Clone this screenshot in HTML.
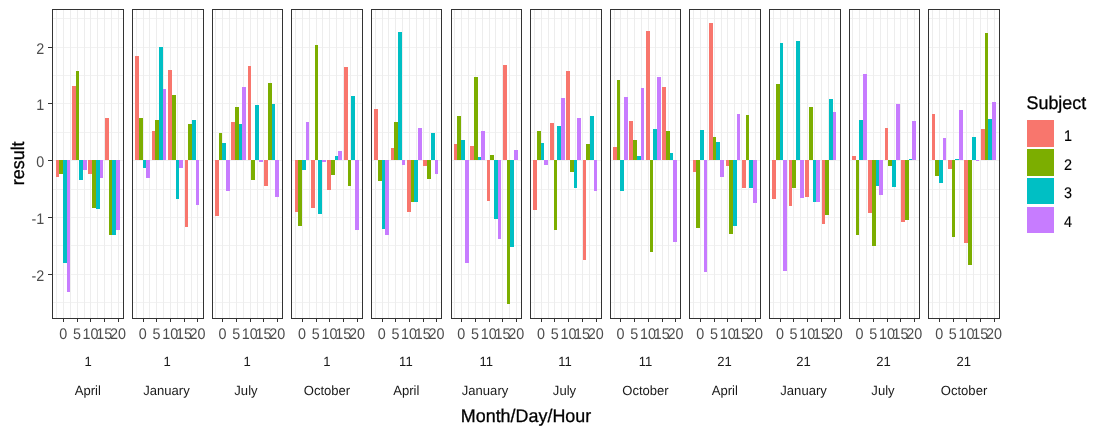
<!DOCTYPE html>
<html lang="en"><head><meta charset="utf-8"><title>Plot</title>
<style>html,body{margin:0;padding:0;background:#fff}body{width:1105px;height:435px;overflow:hidden}svg{display:block}</style></head>
<body>
<svg width="1105" height="435" viewBox="0 0 1105 435" font-family="'Liberation Sans', Arial, sans-serif" text-rendering="geometricPrecision">
<rect width="1105" height="435" fill="#fff"/>
<g shape-rendering="crispEdges">
<g fill="#F2F2F2"><rect x="53" y="302" width="70" height="1"/><rect x="53" y="274" width="70" height="1"/><rect x="53" y="245" width="70" height="1"/><rect x="53" y="217" width="70" height="1"/><rect x="53" y="189" width="70" height="1"/><rect x="53" y="160" width="70" height="1"/><rect x="53" y="132" width="70" height="1"/><rect x="53" y="103" width="70" height="1"/><rect x="53" y="75" width="70" height="1"/><rect x="53" y="47" width="70" height="1"/><rect x="53" y="18" width="70" height="1"/></g><g fill="#EDEDED"><rect x="56" y="10" width="1" height="308"/><rect x="63" y="10" width="1" height="308"/><rect x="70" y="10" width="1" height="308"/><rect x="77" y="10" width="1" height="308"/><rect x="84" y="10" width="1" height="308"/><rect x="90" y="10" width="1" height="308"/><rect x="97" y="10" width="1" height="308"/><rect x="104" y="10" width="1" height="308"/><rect x="111" y="10" width="1" height="308"/><rect x="118" y="10" width="1" height="308"/></g>
<rect x="56" y="160" width="3" height="17" fill="#F8766D"/>
<rect x="59" y="160" width="4" height="14" fill="#7CAE00"/>
<rect x="63" y="160" width="4" height="103" fill="#00BFC4"/>
<rect x="67" y="160" width="3" height="132" fill="#C77CFF"/>
<rect x="72" y="86" width="4" height="74" fill="#F8766D"/>
<rect x="76" y="71" width="3" height="89" fill="#7CAE00"/>
<rect x="79" y="160" width="4" height="20" fill="#00BFC4"/>
<rect x="83" y="160" width="4" height="10" fill="#C77CFF"/>
<rect x="88" y="160" width="4" height="14" fill="#F8766D"/>
<rect x="92" y="160" width="4" height="48" fill="#7CAE00"/>
<rect x="96" y="160" width="4" height="49" fill="#00BFC4"/>
<rect x="100" y="160" width="3" height="18" fill="#C77CFF"/>
<rect x="105" y="118" width="4" height="42" fill="#F8766D"/>
<rect x="109" y="160" width="3" height="75" fill="#7CAE00"/>
<rect x="112" y="160" width="4" height="75" fill="#00BFC4"/>
<rect x="116" y="160" width="4" height="70" fill="#C77CFF"/>
<g fill="#333"><rect x="52" y="9" width="72" height="1"/><rect x="52" y="318" width="72" height="1"/><rect x="52" y="9" width="1" height="310"/><rect x="123" y="9" width="1" height="310"/>
<rect x="63" y="319" width="1" height="3"/>
<rect x="77" y="319" width="1" height="3"/>
<rect x="90" y="319" width="1" height="3"/>
<rect x="104" y="319" width="1" height="3"/>
<rect x="118" y="319" width="1" height="3"/>
</g>
<g fill="#F2F2F2"><rect x="133" y="302" width="70" height="1"/><rect x="133" y="274" width="70" height="1"/><rect x="133" y="245" width="70" height="1"/><rect x="133" y="217" width="70" height="1"/><rect x="133" y="189" width="70" height="1"/><rect x="133" y="160" width="70" height="1"/><rect x="133" y="132" width="70" height="1"/><rect x="133" y="103" width="70" height="1"/><rect x="133" y="75" width="70" height="1"/><rect x="133" y="47" width="70" height="1"/><rect x="133" y="18" width="70" height="1"/></g><g fill="#EDEDED"><rect x="136" y="10" width="1" height="308"/><rect x="143" y="10" width="1" height="308"/><rect x="149" y="10" width="1" height="308"/><rect x="156" y="10" width="1" height="308"/><rect x="163" y="10" width="1" height="308"/><rect x="170" y="10" width="1" height="308"/><rect x="177" y="10" width="1" height="308"/><rect x="184" y="10" width="1" height="308"/><rect x="191" y="10" width="1" height="308"/><rect x="197" y="10" width="1" height="308"/></g>
<rect x="135" y="56" width="4" height="104" fill="#F8766D"/>
<rect x="139" y="118" width="4" height="42" fill="#7CAE00"/>
<rect x="143" y="160" width="3" height="8" fill="#00BFC4"/>
<rect x="146" y="160" width="4" height="18" fill="#C77CFF"/>
<rect x="152" y="131" width="3" height="29" fill="#F8766D"/>
<rect x="155" y="120" width="4" height="40" fill="#7CAE00"/>
<rect x="159" y="47" width="4" height="113" fill="#00BFC4"/>
<rect x="163" y="89" width="3" height="71" fill="#C77CFF"/>
<rect x="168" y="70" width="4" height="90" fill="#F8766D"/>
<rect x="172" y="95" width="4" height="65" fill="#7CAE00"/>
<rect x="176" y="160" width="3" height="39" fill="#00BFC4"/>
<rect x="179" y="160" width="4" height="8" fill="#C77CFF"/>
<rect x="185" y="160" width="3" height="67" fill="#F8766D"/>
<rect x="188" y="124" width="4" height="36" fill="#7CAE00"/>
<rect x="192" y="120" width="4" height="40" fill="#00BFC4"/>
<rect x="196" y="160" width="3" height="45" fill="#C77CFF"/>
<g fill="#333"><rect x="132" y="9" width="72" height="1"/><rect x="132" y="318" width="72" height="1"/><rect x="132" y="9" width="1" height="310"/><rect x="203" y="9" width="1" height="310"/>
<rect x="143" y="319" width="1" height="3"/>
<rect x="156" y="319" width="1" height="3"/>
<rect x="170" y="319" width="1" height="3"/>
<rect x="184" y="319" width="1" height="3"/>
<rect x="197" y="319" width="1" height="3"/>
</g>
<g fill="#F2F2F2"><rect x="213" y="302" width="69" height="1"/><rect x="213" y="274" width="69" height="1"/><rect x="213" y="245" width="69" height="1"/><rect x="213" y="217" width="69" height="1"/><rect x="213" y="189" width="69" height="1"/><rect x="213" y="160" width="69" height="1"/><rect x="213" y="132" width="69" height="1"/><rect x="213" y="103" width="69" height="1"/><rect x="213" y="75" width="69" height="1"/><rect x="213" y="47" width="69" height="1"/><rect x="213" y="18" width="69" height="1"/></g><g fill="#EDEDED"><rect x="215" y="10" width="1" height="308"/><rect x="222" y="10" width="1" height="308"/><rect x="229" y="10" width="1" height="308"/><rect x="236" y="10" width="1" height="308"/><rect x="243" y="10" width="1" height="308"/><rect x="250" y="10" width="1" height="308"/><rect x="257" y="10" width="1" height="308"/><rect x="263" y="10" width="1" height="308"/><rect x="270" y="10" width="1" height="308"/><rect x="277" y="10" width="1" height="308"/></g>
<rect x="215" y="160" width="4" height="56" fill="#F8766D"/>
<rect x="219" y="133" width="3" height="27" fill="#7CAE00"/>
<rect x="222" y="143" width="4" height="17" fill="#00BFC4"/>
<rect x="226" y="160" width="4" height="31" fill="#C77CFF"/>
<rect x="231" y="122" width="4" height="38" fill="#F8766D"/>
<rect x="235" y="107" width="4" height="53" fill="#7CAE00"/>
<rect x="239" y="124" width="3" height="36" fill="#00BFC4"/>
<rect x="242" y="87" width="4" height="73" fill="#C77CFF"/>
<rect x="248" y="66" width="3" height="94" fill="#F8766D"/>
<rect x="251" y="160" width="4" height="20" fill="#7CAE00"/>
<rect x="255" y="105" width="4" height="55" fill="#00BFC4"/>
<rect x="259" y="160" width="4" height="2" fill="#C77CFF"/>
<rect x="264" y="160" width="4" height="26" fill="#F8766D"/>
<rect x="268" y="83" width="4" height="77" fill="#7CAE00"/>
<rect x="272" y="104" width="3" height="56" fill="#00BFC4"/>
<rect x="275" y="160" width="4" height="37" fill="#C77CFF"/>
<g fill="#333"><rect x="212" y="9" width="71" height="1"/><rect x="212" y="318" width="71" height="1"/><rect x="212" y="9" width="1" height="310"/><rect x="282" y="9" width="1" height="310"/>
<rect x="222" y="319" width="1" height="3"/>
<rect x="236" y="319" width="1" height="3"/>
<rect x="250" y="319" width="1" height="3"/>
<rect x="263" y="319" width="1" height="3"/>
<rect x="277" y="319" width="1" height="3"/>
</g>
<g fill="#F2F2F2"><rect x="292" y="302" width="70" height="1"/><rect x="292" y="274" width="70" height="1"/><rect x="292" y="245" width="70" height="1"/><rect x="292" y="217" width="70" height="1"/><rect x="292" y="189" width="70" height="1"/><rect x="292" y="160" width="70" height="1"/><rect x="292" y="132" width="70" height="1"/><rect x="292" y="103" width="70" height="1"/><rect x="292" y="75" width="70" height="1"/><rect x="292" y="47" width="70" height="1"/><rect x="292" y="18" width="70" height="1"/></g><g fill="#EDEDED"><rect x="295" y="10" width="1" height="308"/><rect x="302" y="10" width="1" height="308"/><rect x="309" y="10" width="1" height="308"/><rect x="316" y="10" width="1" height="308"/><rect x="322" y="10" width="1" height="308"/><rect x="329" y="10" width="1" height="308"/><rect x="336" y="10" width="1" height="308"/><rect x="343" y="10" width="1" height="308"/><rect x="350" y="10" width="1" height="308"/><rect x="357" y="10" width="1" height="308"/></g>
<rect x="295" y="160" width="3" height="52" fill="#F8766D"/>
<rect x="298" y="160" width="4" height="66" fill="#7CAE00"/>
<rect x="302" y="160" width="4" height="10" fill="#00BFC4"/>
<rect x="306" y="122" width="3" height="38" fill="#C77CFF"/>
<rect x="311" y="160" width="4" height="48" fill="#F8766D"/>
<rect x="315" y="45" width="3" height="115" fill="#7CAE00"/>
<rect x="318" y="160" width="4" height="54" fill="#00BFC4"/>
<rect x="322" y="160" width="4" height="2" fill="#C77CFF"/>
<rect x="327" y="160" width="4" height="30" fill="#F8766D"/>
<rect x="331" y="160" width="4" height="15" fill="#7CAE00"/>
<rect x="335" y="156" width="3" height="4" fill="#00BFC4"/>
<rect x="338" y="151" width="4" height="9" fill="#C77CFF"/>
<rect x="344" y="67" width="4" height="93" fill="#F8766D"/>
<rect x="348" y="160" width="3" height="26" fill="#7CAE00"/>
<rect x="351" y="96" width="4" height="64" fill="#00BFC4"/>
<rect x="355" y="160" width="4" height="70" fill="#C77CFF"/>
<g fill="#333"><rect x="291" y="9" width="72" height="1"/><rect x="291" y="318" width="72" height="1"/><rect x="291" y="9" width="1" height="310"/><rect x="362" y="9" width="1" height="310"/>
<rect x="302" y="319" width="1" height="3"/>
<rect x="316" y="319" width="1" height="3"/>
<rect x="329" y="319" width="1" height="3"/>
<rect x="343" y="319" width="1" height="3"/>
<rect x="357" y="319" width="1" height="3"/>
</g>
<g fill="#F2F2F2"><rect x="372" y="302" width="69" height="1"/><rect x="372" y="274" width="69" height="1"/><rect x="372" y="245" width="69" height="1"/><rect x="372" y="217" width="69" height="1"/><rect x="372" y="189" width="69" height="1"/><rect x="372" y="160" width="69" height="1"/><rect x="372" y="132" width="69" height="1"/><rect x="372" y="103" width="69" height="1"/><rect x="372" y="75" width="69" height="1"/><rect x="372" y="47" width="69" height="1"/><rect x="372" y="18" width="69" height="1"/></g><g fill="#EDEDED"><rect x="375" y="10" width="1" height="308"/><rect x="382" y="10" width="1" height="308"/><rect x="388" y="10" width="1" height="308"/><rect x="395" y="10" width="1" height="308"/><rect x="402" y="10" width="1" height="308"/><rect x="409" y="10" width="1" height="308"/><rect x="416" y="10" width="1" height="308"/><rect x="423" y="10" width="1" height="308"/><rect x="429" y="10" width="1" height="308"/><rect x="436" y="10" width="1" height="308"/></g>
<rect x="374" y="109" width="4" height="51" fill="#F8766D"/>
<rect x="378" y="160" width="4" height="21" fill="#7CAE00"/>
<rect x="382" y="160" width="3" height="69" fill="#00BFC4"/>
<rect x="385" y="160" width="4" height="75" fill="#C77CFF"/>
<rect x="391" y="148" width="3" height="12" fill="#F8766D"/>
<rect x="394" y="122" width="4" height="38" fill="#7CAE00"/>
<rect x="398" y="32" width="4" height="128" fill="#00BFC4"/>
<rect x="402" y="160" width="3" height="5" fill="#C77CFF"/>
<rect x="407" y="160" width="4" height="52" fill="#F8766D"/>
<rect x="411" y="160" width="3" height="42" fill="#7CAE00"/>
<rect x="414" y="160" width="4" height="42" fill="#00BFC4"/>
<rect x="418" y="128" width="4" height="32" fill="#C77CFF"/>
<rect x="423" y="160" width="4" height="6" fill="#F8766D"/>
<rect x="427" y="160" width="4" height="19" fill="#7CAE00"/>
<rect x="431" y="133" width="4" height="27" fill="#00BFC4"/>
<rect x="435" y="160" width="3" height="14" fill="#C77CFF"/>
<g fill="#333"><rect x="371" y="9" width="71" height="1"/><rect x="371" y="318" width="71" height="1"/><rect x="371" y="9" width="1" height="310"/><rect x="441" y="9" width="1" height="310"/>
<rect x="382" y="319" width="1" height="3"/>
<rect x="395" y="319" width="1" height="3"/>
<rect x="409" y="319" width="1" height="3"/>
<rect x="423" y="319" width="1" height="3"/>
<rect x="436" y="319" width="1" height="3"/>
</g>
<g fill="#F2F2F2"><rect x="452" y="302" width="69" height="1"/><rect x="452" y="274" width="69" height="1"/><rect x="452" y="245" width="69" height="1"/><rect x="452" y="217" width="69" height="1"/><rect x="452" y="189" width="69" height="1"/><rect x="452" y="160" width="69" height="1"/><rect x="452" y="132" width="69" height="1"/><rect x="452" y="103" width="69" height="1"/><rect x="452" y="75" width="69" height="1"/><rect x="452" y="47" width="69" height="1"/><rect x="452" y="18" width="69" height="1"/></g><g fill="#EDEDED"><rect x="454" y="10" width="1" height="308"/><rect x="461" y="10" width="1" height="308"/><rect x="468" y="10" width="1" height="308"/><rect x="475" y="10" width="1" height="308"/><rect x="482" y="10" width="1" height="308"/><rect x="489" y="10" width="1" height="308"/><rect x="495" y="10" width="1" height="308"/><rect x="502" y="10" width="1" height="308"/><rect x="509" y="10" width="1" height="308"/><rect x="516" y="10" width="1" height="308"/></g>
<rect x="454" y="144" width="3" height="16" fill="#F8766D"/>
<rect x="457" y="116" width="4" height="44" fill="#7CAE00"/>
<rect x="461" y="140" width="4" height="20" fill="#00BFC4"/>
<rect x="465" y="160" width="4" height="103" fill="#C77CFF"/>
<rect x="470" y="146" width="4" height="14" fill="#F8766D"/>
<rect x="474" y="77" width="4" height="83" fill="#7CAE00"/>
<rect x="478" y="157" width="3" height="3" fill="#00BFC4"/>
<rect x="481" y="131" width="4" height="29" fill="#C77CFF"/>
<rect x="487" y="160" width="3" height="41" fill="#F8766D"/>
<rect x="490" y="155" width="4" height="5" fill="#7CAE00"/>
<rect x="494" y="160" width="4" height="59" fill="#00BFC4"/>
<rect x="498" y="160" width="3" height="79" fill="#C77CFF"/>
<rect x="503" y="65" width="4" height="95" fill="#F8766D"/>
<rect x="507" y="160" width="3" height="144" fill="#7CAE00"/>
<rect x="510" y="160" width="4" height="87" fill="#00BFC4"/>
<rect x="514" y="150" width="4" height="10" fill="#C77CFF"/>
<g fill="#333"><rect x="451" y="9" width="71" height="1"/><rect x="451" y="318" width="71" height="1"/><rect x="451" y="9" width="1" height="310"/><rect x="521" y="9" width="1" height="310"/>
<rect x="461" y="319" width="1" height="3"/>
<rect x="475" y="319" width="1" height="3"/>
<rect x="489" y="319" width="1" height="3"/>
<rect x="502" y="319" width="1" height="3"/>
<rect x="516" y="319" width="1" height="3"/>
</g>
<g fill="#F2F2F2"><rect x="531" y="302" width="70" height="1"/><rect x="531" y="274" width="70" height="1"/><rect x="531" y="245" width="70" height="1"/><rect x="531" y="217" width="70" height="1"/><rect x="531" y="189" width="70" height="1"/><rect x="531" y="160" width="70" height="1"/><rect x="531" y="132" width="70" height="1"/><rect x="531" y="103" width="70" height="1"/><rect x="531" y="75" width="70" height="1"/><rect x="531" y="47" width="70" height="1"/><rect x="531" y="18" width="70" height="1"/></g><g fill="#EDEDED"><rect x="534" y="10" width="1" height="308"/><rect x="541" y="10" width="1" height="308"/><rect x="548" y="10" width="1" height="308"/><rect x="554" y="10" width="1" height="308"/><rect x="561" y="10" width="1" height="308"/><rect x="568" y="10" width="1" height="308"/><rect x="575" y="10" width="1" height="308"/><rect x="582" y="10" width="1" height="308"/><rect x="589" y="10" width="1" height="308"/><rect x="596" y="10" width="1" height="308"/></g>
<rect x="533" y="160" width="4" height="50" fill="#F8766D"/>
<rect x="537" y="131" width="4" height="29" fill="#7CAE00"/>
<rect x="541" y="143" width="3" height="17" fill="#00BFC4"/>
<rect x="544" y="160" width="4" height="5" fill="#C77CFF"/>
<rect x="550" y="123" width="4" height="37" fill="#F8766D"/>
<rect x="554" y="160" width="3" height="70" fill="#7CAE00"/>
<rect x="557" y="126" width="4" height="34" fill="#00BFC4"/>
<rect x="561" y="98" width="4" height="62" fill="#C77CFF"/>
<rect x="566" y="71" width="4" height="89" fill="#F8766D"/>
<rect x="570" y="160" width="4" height="12" fill="#7CAE00"/>
<rect x="574" y="160" width="3" height="28" fill="#00BFC4"/>
<rect x="577" y="118" width="4" height="42" fill="#C77CFF"/>
<rect x="583" y="160" width="3" height="100" fill="#F8766D"/>
<rect x="586" y="144" width="4" height="16" fill="#7CAE00"/>
<rect x="590" y="116" width="4" height="44" fill="#00BFC4"/>
<rect x="594" y="160" width="3" height="31" fill="#C77CFF"/>
<g fill="#333"><rect x="530" y="9" width="72" height="1"/><rect x="530" y="318" width="72" height="1"/><rect x="530" y="9" width="1" height="310"/><rect x="601" y="9" width="1" height="310"/>
<rect x="541" y="319" width="1" height="3"/>
<rect x="554" y="319" width="1" height="3"/>
<rect x="568" y="319" width="1" height="3"/>
<rect x="582" y="319" width="1" height="3"/>
<rect x="596" y="319" width="1" height="3"/>
</g>
<g fill="#F2F2F2"><rect x="611" y="302" width="69" height="1"/><rect x="611" y="274" width="69" height="1"/><rect x="611" y="245" width="69" height="1"/><rect x="611" y="217" width="69" height="1"/><rect x="611" y="189" width="69" height="1"/><rect x="611" y="160" width="69" height="1"/><rect x="611" y="132" width="69" height="1"/><rect x="611" y="103" width="69" height="1"/><rect x="611" y="75" width="69" height="1"/><rect x="611" y="47" width="69" height="1"/><rect x="611" y="18" width="69" height="1"/></g><g fill="#EDEDED"><rect x="614" y="10" width="1" height="308"/><rect x="620" y="10" width="1" height="308"/><rect x="627" y="10" width="1" height="308"/><rect x="634" y="10" width="1" height="308"/><rect x="641" y="10" width="1" height="308"/><rect x="648" y="10" width="1" height="308"/><rect x="655" y="10" width="1" height="308"/><rect x="662" y="10" width="1" height="308"/><rect x="668" y="10" width="1" height="308"/><rect x="675" y="10" width="1" height="308"/></g>
<rect x="613" y="147" width="4" height="13" fill="#F8766D"/>
<rect x="617" y="80" width="3" height="80" fill="#7CAE00"/>
<rect x="620" y="160" width="4" height="31" fill="#00BFC4"/>
<rect x="624" y="97" width="4" height="63" fill="#C77CFF"/>
<rect x="629" y="121" width="4" height="39" fill="#F8766D"/>
<rect x="633" y="140" width="4" height="20" fill="#7CAE00"/>
<rect x="637" y="156" width="4" height="4" fill="#00BFC4"/>
<rect x="641" y="88" width="3" height="72" fill="#C77CFF"/>
<rect x="646" y="31" width="4" height="129" fill="#F8766D"/>
<rect x="650" y="160" width="3" height="92" fill="#7CAE00"/>
<rect x="653" y="129" width="4" height="31" fill="#00BFC4"/>
<rect x="657" y="77" width="4" height="83" fill="#C77CFF"/>
<rect x="662" y="87" width="4" height="73" fill="#F8766D"/>
<rect x="666" y="131" width="4" height="29" fill="#7CAE00"/>
<rect x="670" y="153" width="3" height="7" fill="#00BFC4"/>
<rect x="673" y="160" width="4" height="82" fill="#C77CFF"/>
<g fill="#333"><rect x="610" y="9" width="71" height="1"/><rect x="610" y="318" width="71" height="1"/><rect x="610" y="9" width="1" height="310"/><rect x="680" y="9" width="1" height="310"/>
<rect x="620" y="319" width="1" height="3"/>
<rect x="634" y="319" width="1" height="3"/>
<rect x="648" y="319" width="1" height="3"/>
<rect x="662" y="319" width="1" height="3"/>
<rect x="675" y="319" width="1" height="3"/>
</g>
<g fill="#F2F2F2"><rect x="690" y="302" width="70" height="1"/><rect x="690" y="274" width="70" height="1"/><rect x="690" y="245" width="70" height="1"/><rect x="690" y="217" width="70" height="1"/><rect x="690" y="189" width="70" height="1"/><rect x="690" y="160" width="70" height="1"/><rect x="690" y="132" width="70" height="1"/><rect x="690" y="103" width="70" height="1"/><rect x="690" y="75" width="70" height="1"/><rect x="690" y="47" width="70" height="1"/><rect x="690" y="18" width="70" height="1"/></g><g fill="#EDEDED"><rect x="693" y="10" width="1" height="308"/><rect x="700" y="10" width="1" height="308"/><rect x="707" y="10" width="1" height="308"/><rect x="714" y="10" width="1" height="308"/><rect x="721" y="10" width="1" height="308"/><rect x="727" y="10" width="1" height="308"/><rect x="734" y="10" width="1" height="308"/><rect x="741" y="10" width="1" height="308"/><rect x="748" y="10" width="1" height="308"/><rect x="755" y="10" width="1" height="308"/></g>
<rect x="693" y="160" width="3" height="12" fill="#F8766D"/>
<rect x="696" y="160" width="4" height="68" fill="#7CAE00"/>
<rect x="700" y="130" width="4" height="30" fill="#00BFC4"/>
<rect x="704" y="160" width="3" height="112" fill="#C77CFF"/>
<rect x="709" y="23" width="4" height="137" fill="#F8766D"/>
<rect x="713" y="137" width="3" height="23" fill="#7CAE00"/>
<rect x="716" y="142" width="4" height="18" fill="#00BFC4"/>
<rect x="720" y="160" width="4" height="17" fill="#C77CFF"/>
<rect x="726" y="160" width="3" height="6" fill="#F8766D"/>
<rect x="729" y="160" width="4" height="74" fill="#7CAE00"/>
<rect x="733" y="160" width="4" height="66" fill="#00BFC4"/>
<rect x="737" y="114" width="3" height="46" fill="#C77CFF"/>
<rect x="742" y="160" width="4" height="28" fill="#F8766D"/>
<rect x="746" y="115" width="3" height="45" fill="#7CAE00"/>
<rect x="749" y="160" width="4" height="28" fill="#00BFC4"/>
<rect x="753" y="160" width="4" height="43" fill="#C77CFF"/>
<g fill="#333"><rect x="689" y="9" width="72" height="1"/><rect x="689" y="318" width="72" height="1"/><rect x="689" y="9" width="1" height="310"/><rect x="760" y="9" width="1" height="310"/>
<rect x="700" y="319" width="1" height="3"/>
<rect x="714" y="319" width="1" height="3"/>
<rect x="727" y="319" width="1" height="3"/>
<rect x="741" y="319" width="1" height="3"/>
<rect x="755" y="319" width="1" height="3"/>
</g>
<g fill="#F2F2F2"><rect x="770" y="302" width="70" height="1"/><rect x="770" y="274" width="70" height="1"/><rect x="770" y="245" width="70" height="1"/><rect x="770" y="217" width="70" height="1"/><rect x="770" y="189" width="70" height="1"/><rect x="770" y="160" width="70" height="1"/><rect x="770" y="132" width="70" height="1"/><rect x="770" y="103" width="70" height="1"/><rect x="770" y="75" width="70" height="1"/><rect x="770" y="47" width="70" height="1"/><rect x="770" y="18" width="70" height="1"/></g><g fill="#EDEDED"><rect x="773" y="10" width="1" height="308"/><rect x="780" y="10" width="1" height="308"/><rect x="787" y="10" width="1" height="308"/><rect x="793" y="10" width="1" height="308"/><rect x="800" y="10" width="1" height="308"/><rect x="807" y="10" width="1" height="308"/><rect x="814" y="10" width="1" height="308"/><rect x="821" y="10" width="1" height="308"/><rect x="828" y="10" width="1" height="308"/><rect x="834" y="10" width="1" height="308"/></g>
<rect x="772" y="160" width="4" height="39" fill="#F8766D"/>
<rect x="776" y="84" width="4" height="76" fill="#7CAE00"/>
<rect x="780" y="43" width="3" height="117" fill="#00BFC4"/>
<rect x="783" y="160" width="4" height="111" fill="#C77CFF"/>
<rect x="789" y="160" width="3" height="46" fill="#F8766D"/>
<rect x="792" y="160" width="4" height="28" fill="#7CAE00"/>
<rect x="796" y="41" width="4" height="119" fill="#00BFC4"/>
<rect x="800" y="160" width="4" height="38" fill="#C77CFF"/>
<rect x="805" y="160" width="4" height="37" fill="#F8766D"/>
<rect x="809" y="107" width="4" height="53" fill="#7CAE00"/>
<rect x="813" y="160" width="3" height="42" fill="#00BFC4"/>
<rect x="816" y="160" width="4" height="42" fill="#C77CFF"/>
<rect x="822" y="160" width="3" height="64" fill="#F8766D"/>
<rect x="825" y="160" width="4" height="55" fill="#7CAE00"/>
<rect x="829" y="99" width="4" height="61" fill="#00BFC4"/>
<rect x="833" y="112" width="3" height="48" fill="#C77CFF"/>
<g fill="#333"><rect x="769" y="9" width="72" height="1"/><rect x="769" y="318" width="72" height="1"/><rect x="769" y="9" width="1" height="310"/><rect x="840" y="9" width="1" height="310"/>
<rect x="780" y="319" width="1" height="3"/>
<rect x="793" y="319" width="1" height="3"/>
<rect x="807" y="319" width="1" height="3"/>
<rect x="821" y="319" width="1" height="3"/>
<rect x="834" y="319" width="1" height="3"/>
</g>
<g fill="#F2F2F2"><rect x="850" y="302" width="69" height="1"/><rect x="850" y="274" width="69" height="1"/><rect x="850" y="245" width="69" height="1"/><rect x="850" y="217" width="69" height="1"/><rect x="850" y="189" width="69" height="1"/><rect x="850" y="160" width="69" height="1"/><rect x="850" y="132" width="69" height="1"/><rect x="850" y="103" width="69" height="1"/><rect x="850" y="75" width="69" height="1"/><rect x="850" y="47" width="69" height="1"/><rect x="850" y="18" width="69" height="1"/></g><g fill="#EDEDED"><rect x="852" y="10" width="1" height="308"/><rect x="859" y="10" width="1" height="308"/><rect x="866" y="10" width="1" height="308"/><rect x="873" y="10" width="1" height="308"/><rect x="880" y="10" width="1" height="308"/><rect x="887" y="10" width="1" height="308"/><rect x="894" y="10" width="1" height="308"/><rect x="900" y="10" width="1" height="308"/><rect x="907" y="10" width="1" height="308"/><rect x="914" y="10" width="1" height="308"/></g>
<rect x="852" y="156" width="4" height="4" fill="#F8766D"/>
<rect x="856" y="160" width="3" height="75" fill="#7CAE00"/>
<rect x="859" y="120" width="4" height="40" fill="#00BFC4"/>
<rect x="863" y="74" width="4" height="86" fill="#C77CFF"/>
<rect x="868" y="160" width="4" height="53" fill="#F8766D"/>
<rect x="872" y="160" width="4" height="86" fill="#7CAE00"/>
<rect x="876" y="160" width="3" height="26" fill="#00BFC4"/>
<rect x="879" y="160" width="4" height="35" fill="#C77CFF"/>
<rect x="885" y="128" width="3" height="32" fill="#F8766D"/>
<rect x="888" y="160" width="4" height="6" fill="#7CAE00"/>
<rect x="892" y="160" width="4" height="27" fill="#00BFC4"/>
<rect x="896" y="104" width="4" height="56" fill="#C77CFF"/>
<rect x="901" y="160" width="4" height="62" fill="#F8766D"/>
<rect x="905" y="160" width="4" height="60" fill="#7CAE00"/>
<rect x="909" y="159" width="3" height="1" fill="#00BFC4"/>
<rect x="912" y="121" width="4" height="39" fill="#C77CFF"/>
<g fill="#333"><rect x="849" y="9" width="71" height="1"/><rect x="849" y="318" width="71" height="1"/><rect x="849" y="9" width="1" height="310"/><rect x="919" y="9" width="1" height="310"/>
<rect x="859" y="319" width="1" height="3"/>
<rect x="873" y="319" width="1" height="3"/>
<rect x="887" y="319" width="1" height="3"/>
<rect x="900" y="319" width="1" height="3"/>
<rect x="914" y="319" width="1" height="3"/>
</g>
<g fill="#F2F2F2"><rect x="929" y="302" width="70" height="1"/><rect x="929" y="274" width="70" height="1"/><rect x="929" y="245" width="70" height="1"/><rect x="929" y="217" width="70" height="1"/><rect x="929" y="189" width="70" height="1"/><rect x="929" y="160" width="70" height="1"/><rect x="929" y="132" width="70" height="1"/><rect x="929" y="103" width="70" height="1"/><rect x="929" y="75" width="70" height="1"/><rect x="929" y="47" width="70" height="1"/><rect x="929" y="18" width="70" height="1"/></g><g fill="#EDEDED"><rect x="932" y="10" width="1" height="308"/><rect x="939" y="10" width="1" height="308"/><rect x="946" y="10" width="1" height="308"/><rect x="953" y="10" width="1" height="308"/><rect x="959" y="10" width="1" height="308"/><rect x="966" y="10" width="1" height="308"/><rect x="973" y="10" width="1" height="308"/><rect x="980" y="10" width="1" height="308"/><rect x="987" y="10" width="1" height="308"/><rect x="994" y="10" width="1" height="308"/></g>
<rect x="932" y="114" width="3" height="46" fill="#F8766D"/>
<rect x="935" y="160" width="4" height="16" fill="#7CAE00"/>
<rect x="939" y="160" width="4" height="23" fill="#00BFC4"/>
<rect x="943" y="138" width="3" height="22" fill="#C77CFF"/>
<rect x="948" y="160" width="4" height="9" fill="#F8766D"/>
<rect x="952" y="160" width="3" height="77" fill="#7CAE00"/>
<rect x="955" y="159" width="4" height="1" fill="#00BFC4"/>
<rect x="959" y="110" width="4" height="50" fill="#C77CFF"/>
<rect x="964" y="160" width="4" height="83" fill="#F8766D"/>
<rect x="968" y="160" width="4" height="105" fill="#7CAE00"/>
<rect x="972" y="137" width="4" height="23" fill="#00BFC4"/>
<rect x="976" y="160" width="3" height="1" fill="#C77CFF"/>
<rect x="981" y="129" width="4" height="31" fill="#F8766D"/>
<rect x="985" y="33" width="3" height="127" fill="#7CAE00"/>
<rect x="988" y="119" width="4" height="41" fill="#00BFC4"/>
<rect x="992" y="102" width="4" height="58" fill="#C77CFF"/>
<g fill="#333"><rect x="928" y="9" width="72" height="1"/><rect x="928" y="318" width="72" height="1"/><rect x="928" y="9" width="1" height="310"/><rect x="999" y="9" width="1" height="310"/>
<rect x="939" y="319" width="1" height="3"/>
<rect x="953" y="319" width="1" height="3"/>
<rect x="966" y="319" width="1" height="3"/>
<rect x="980" y="319" width="1" height="3"/>
<rect x="994" y="319" width="1" height="3"/>
</g>
<g fill="#333">
<rect x="48" y="274" width="4" height="1"/>
<rect x="48" y="217" width="4" height="1"/>
<rect x="48" y="160" width="4" height="1"/>
<rect x="48" y="103" width="4" height="1"/>
<rect x="48" y="47" width="4" height="1"/>
</g>
<rect x="1027" y="120" width="27" height="27" fill="#F8766D"/>
<rect x="1027" y="149" width="27" height="27" fill="#7CAE00"/>
<rect x="1027" y="178" width="27" height="26" fill="#00BFC4"/>
<rect x="1027" y="207" width="27" height="26" fill="#C77CFF"/>
</g>
<text transform="translate(44.30,281.00) scale(0.934,1)" font-size="15.4px" fill="#4D4D4D" stroke="#4D4D4D" stroke-width="0" text-anchor="end">-2</text>
<text transform="translate(44.30,224.00) scale(0.934,1)" font-size="15.4px" fill="#4D4D4D" stroke="#4D4D4D" stroke-width="0" text-anchor="end">-1</text>
<text transform="translate(44.30,167.00) scale(0.934,1)" font-size="15.4px" fill="#4D4D4D" stroke="#4D4D4D" stroke-width="0" text-anchor="end">0</text>
<text transform="translate(44.30,110.00) scale(0.934,1)" font-size="15.4px" fill="#4D4D4D" stroke="#4D4D4D" stroke-width="0" text-anchor="end">1</text>
<text transform="translate(44.30,54.00) scale(0.934,1)" font-size="15.4px" fill="#4D4D4D" stroke="#4D4D4D" stroke-width="0" text-anchor="end">2</text>
<text transform="translate(63.21,339.00) scale(0.934,1)" font-size="15.4px" fill="#4D4D4D" stroke="#4D4D4D" stroke-width="0" text-anchor="middle">0</text>
<text transform="translate(76.91,339.00) scale(0.934,1)" font-size="15.4px" fill="#4D4D4D" stroke="#4D4D4D" stroke-width="0" text-anchor="middle">5</text>
<text transform="translate(90.60,339.00) scale(0.934,1)" font-size="15.4px" fill="#4D4D4D" stroke="#4D4D4D" stroke-width="0" text-anchor="middle">10</text>
<text transform="translate(104.30,339.00) scale(0.934,1)" font-size="15.4px" fill="#4D4D4D" stroke="#4D4D4D" stroke-width="0" text-anchor="middle">15</text>
<text transform="translate(117.99,339.00) scale(0.934,1)" font-size="15.4px" fill="#4D4D4D" stroke="#4D4D4D" stroke-width="0" text-anchor="middle">20</text>
<text transform="translate(142.84,339.00) scale(0.934,1)" font-size="15.4px" fill="#4D4D4D" stroke="#4D4D4D" stroke-width="0" text-anchor="middle">0</text>
<text transform="translate(156.53,339.00) scale(0.934,1)" font-size="15.4px" fill="#4D4D4D" stroke="#4D4D4D" stroke-width="0" text-anchor="middle">5</text>
<text transform="translate(170.23,339.00) scale(0.934,1)" font-size="15.4px" fill="#4D4D4D" stroke="#4D4D4D" stroke-width="0" text-anchor="middle">10</text>
<text transform="translate(183.93,339.00) scale(0.934,1)" font-size="15.4px" fill="#4D4D4D" stroke="#4D4D4D" stroke-width="0" text-anchor="middle">15</text>
<text transform="translate(197.62,339.00) scale(0.934,1)" font-size="15.4px" fill="#4D4D4D" stroke="#4D4D4D" stroke-width="0" text-anchor="middle">20</text>
<text transform="translate(222.47,339.00) scale(0.934,1)" font-size="15.4px" fill="#4D4D4D" stroke="#4D4D4D" stroke-width="0" text-anchor="middle">0</text>
<text transform="translate(236.16,339.00) scale(0.934,1)" font-size="15.4px" fill="#4D4D4D" stroke="#4D4D4D" stroke-width="0" text-anchor="middle">5</text>
<text transform="translate(249.86,339.00) scale(0.934,1)" font-size="15.4px" fill="#4D4D4D" stroke="#4D4D4D" stroke-width="0" text-anchor="middle">10</text>
<text transform="translate(263.56,339.00) scale(0.934,1)" font-size="15.4px" fill="#4D4D4D" stroke="#4D4D4D" stroke-width="0" text-anchor="middle">15</text>
<text transform="translate(277.25,339.00) scale(0.934,1)" font-size="15.4px" fill="#4D4D4D" stroke="#4D4D4D" stroke-width="0" text-anchor="middle">20</text>
<text transform="translate(302.10,339.00) scale(0.934,1)" font-size="15.4px" fill="#4D4D4D" stroke="#4D4D4D" stroke-width="0" text-anchor="middle">0</text>
<text transform="translate(315.79,339.00) scale(0.934,1)" font-size="15.4px" fill="#4D4D4D" stroke="#4D4D4D" stroke-width="0" text-anchor="middle">5</text>
<text transform="translate(329.49,339.00) scale(0.934,1)" font-size="15.4px" fill="#4D4D4D" stroke="#4D4D4D" stroke-width="0" text-anchor="middle">10</text>
<text transform="translate(343.18,339.00) scale(0.934,1)" font-size="15.4px" fill="#4D4D4D" stroke="#4D4D4D" stroke-width="0" text-anchor="middle">15</text>
<text transform="translate(356.88,339.00) scale(0.934,1)" font-size="15.4px" fill="#4D4D4D" stroke="#4D4D4D" stroke-width="0" text-anchor="middle">20</text>
<text transform="translate(381.73,339.00) scale(0.934,1)" font-size="15.4px" fill="#4D4D4D" stroke="#4D4D4D" stroke-width="0" text-anchor="middle">0</text>
<text transform="translate(395.42,339.00) scale(0.934,1)" font-size="15.4px" fill="#4D4D4D" stroke="#4D4D4D" stroke-width="0" text-anchor="middle">5</text>
<text transform="translate(409.12,339.00) scale(0.934,1)" font-size="15.4px" fill="#4D4D4D" stroke="#4D4D4D" stroke-width="0" text-anchor="middle">10</text>
<text transform="translate(422.81,339.00) scale(0.934,1)" font-size="15.4px" fill="#4D4D4D" stroke="#4D4D4D" stroke-width="0" text-anchor="middle">15</text>
<text transform="translate(436.51,339.00) scale(0.934,1)" font-size="15.4px" fill="#4D4D4D" stroke="#4D4D4D" stroke-width="0" text-anchor="middle">20</text>
<text transform="translate(461.36,339.00) scale(0.934,1)" font-size="15.4px" fill="#4D4D4D" stroke="#4D4D4D" stroke-width="0" text-anchor="middle">0</text>
<text transform="translate(475.05,339.00) scale(0.934,1)" font-size="15.4px" fill="#4D4D4D" stroke="#4D4D4D" stroke-width="0" text-anchor="middle">5</text>
<text transform="translate(488.75,339.00) scale(0.934,1)" font-size="15.4px" fill="#4D4D4D" stroke="#4D4D4D" stroke-width="0" text-anchor="middle">10</text>
<text transform="translate(502.44,339.00) scale(0.934,1)" font-size="15.4px" fill="#4D4D4D" stroke="#4D4D4D" stroke-width="0" text-anchor="middle">15</text>
<text transform="translate(516.14,339.00) scale(0.934,1)" font-size="15.4px" fill="#4D4D4D" stroke="#4D4D4D" stroke-width="0" text-anchor="middle">20</text>
<text transform="translate(540.99,339.00) scale(0.934,1)" font-size="15.4px" fill="#4D4D4D" stroke="#4D4D4D" stroke-width="0" text-anchor="middle">0</text>
<text transform="translate(554.69,339.00) scale(0.934,1)" font-size="15.4px" fill="#4D4D4D" stroke="#4D4D4D" stroke-width="0" text-anchor="middle">5</text>
<text transform="translate(568.38,339.00) scale(0.934,1)" font-size="15.4px" fill="#4D4D4D" stroke="#4D4D4D" stroke-width="0" text-anchor="middle">10</text>
<text transform="translate(582.08,339.00) scale(0.934,1)" font-size="15.4px" fill="#4D4D4D" stroke="#4D4D4D" stroke-width="0" text-anchor="middle">15</text>
<text transform="translate(595.77,339.00) scale(0.934,1)" font-size="15.4px" fill="#4D4D4D" stroke="#4D4D4D" stroke-width="0" text-anchor="middle">20</text>
<text transform="translate(620.62,339.00) scale(0.934,1)" font-size="15.4px" fill="#4D4D4D" stroke="#4D4D4D" stroke-width="0" text-anchor="middle">0</text>
<text transform="translate(634.32,339.00) scale(0.934,1)" font-size="15.4px" fill="#4D4D4D" stroke="#4D4D4D" stroke-width="0" text-anchor="middle">5</text>
<text transform="translate(648.01,339.00) scale(0.934,1)" font-size="15.4px" fill="#4D4D4D" stroke="#4D4D4D" stroke-width="0" text-anchor="middle">10</text>
<text transform="translate(661.71,339.00) scale(0.934,1)" font-size="15.4px" fill="#4D4D4D" stroke="#4D4D4D" stroke-width="0" text-anchor="middle">15</text>
<text transform="translate(675.40,339.00) scale(0.934,1)" font-size="15.4px" fill="#4D4D4D" stroke="#4D4D4D" stroke-width="0" text-anchor="middle">20</text>
<text transform="translate(700.25,339.00) scale(0.934,1)" font-size="15.4px" fill="#4D4D4D" stroke="#4D4D4D" stroke-width="0" text-anchor="middle">0</text>
<text transform="translate(713.95,339.00) scale(0.934,1)" font-size="15.4px" fill="#4D4D4D" stroke="#4D4D4D" stroke-width="0" text-anchor="middle">5</text>
<text transform="translate(727.64,339.00) scale(0.934,1)" font-size="15.4px" fill="#4D4D4D" stroke="#4D4D4D" stroke-width="0" text-anchor="middle">10</text>
<text transform="translate(741.34,339.00) scale(0.934,1)" font-size="15.4px" fill="#4D4D4D" stroke="#4D4D4D" stroke-width="0" text-anchor="middle">15</text>
<text transform="translate(755.03,339.00) scale(0.934,1)" font-size="15.4px" fill="#4D4D4D" stroke="#4D4D4D" stroke-width="0" text-anchor="middle">20</text>
<text transform="translate(779.88,339.00) scale(0.934,1)" font-size="15.4px" fill="#4D4D4D" stroke="#4D4D4D" stroke-width="0" text-anchor="middle">0</text>
<text transform="translate(793.58,339.00) scale(0.934,1)" font-size="15.4px" fill="#4D4D4D" stroke="#4D4D4D" stroke-width="0" text-anchor="middle">5</text>
<text transform="translate(807.27,339.00) scale(0.934,1)" font-size="15.4px" fill="#4D4D4D" stroke="#4D4D4D" stroke-width="0" text-anchor="middle">10</text>
<text transform="translate(820.97,339.00) scale(0.934,1)" font-size="15.4px" fill="#4D4D4D" stroke="#4D4D4D" stroke-width="0" text-anchor="middle">15</text>
<text transform="translate(834.66,339.00) scale(0.934,1)" font-size="15.4px" fill="#4D4D4D" stroke="#4D4D4D" stroke-width="0" text-anchor="middle">20</text>
<text transform="translate(859.51,339.00) scale(0.934,1)" font-size="15.4px" fill="#4D4D4D" stroke="#4D4D4D" stroke-width="0" text-anchor="middle">0</text>
<text transform="translate(873.21,339.00) scale(0.934,1)" font-size="15.4px" fill="#4D4D4D" stroke="#4D4D4D" stroke-width="0" text-anchor="middle">5</text>
<text transform="translate(886.90,339.00) scale(0.934,1)" font-size="15.4px" fill="#4D4D4D" stroke="#4D4D4D" stroke-width="0" text-anchor="middle">10</text>
<text transform="translate(900.60,339.00) scale(0.934,1)" font-size="15.4px" fill="#4D4D4D" stroke="#4D4D4D" stroke-width="0" text-anchor="middle">15</text>
<text transform="translate(914.29,339.00) scale(0.934,1)" font-size="15.4px" fill="#4D4D4D" stroke="#4D4D4D" stroke-width="0" text-anchor="middle">20</text>
<text transform="translate(939.14,339.00) scale(0.934,1)" font-size="15.4px" fill="#4D4D4D" stroke="#4D4D4D" stroke-width="0" text-anchor="middle">0</text>
<text transform="translate(952.84,339.00) scale(0.934,1)" font-size="15.4px" fill="#4D4D4D" stroke="#4D4D4D" stroke-width="0" text-anchor="middle">5</text>
<text transform="translate(966.53,339.00) scale(0.934,1)" font-size="15.4px" fill="#4D4D4D" stroke="#4D4D4D" stroke-width="0" text-anchor="middle">10</text>
<text transform="translate(980.23,339.00) scale(0.934,1)" font-size="15.4px" fill="#4D4D4D" stroke="#4D4D4D" stroke-width="0" text-anchor="middle">15</text>
<text transform="translate(993.92,339.00) scale(0.934,1)" font-size="15.4px" fill="#4D4D4D" stroke="#4D4D4D" stroke-width="0" text-anchor="middle">20</text>
<text transform="translate(88.18,365.60) scale(0.98,1)" font-size="13.33px" fill="#1A1A1A" stroke="#1A1A1A" stroke-width="0" text-anchor="middle">1</text>
<text transform="translate(87.78,395.20) scale(0.98,1)" font-size="13.33px" fill="#1A1A1A" stroke="#1A1A1A" stroke-width="0" text-anchor="middle">April</text>
<text transform="translate(167.01,365.60) scale(0.98,1)" font-size="13.33px" fill="#1A1A1A" stroke="#1A1A1A" stroke-width="0" text-anchor="middle">1</text>
<text transform="translate(166.51,395.20) scale(0.98,1)" font-size="13.33px" fill="#1A1A1A" stroke="#1A1A1A" stroke-width="0" text-anchor="middle">January</text>
<text transform="translate(247.04,365.60) scale(0.98,1)" font-size="13.33px" fill="#1A1A1A" stroke="#1A1A1A" stroke-width="0" text-anchor="middle">1</text>
<text transform="translate(245.94,395.20) scale(0.98,1)" font-size="13.33px" fill="#1A1A1A" stroke="#1A1A1A" stroke-width="0" text-anchor="middle">July</text>
<text transform="translate(326.97,365.60) scale(0.98,1)" font-size="13.33px" fill="#1A1A1A" stroke="#1A1A1A" stroke-width="0" text-anchor="middle">1</text>
<text transform="translate(326.97,395.20) scale(0.98,1)" font-size="13.33px" fill="#1A1A1A" stroke="#1A1A1A" stroke-width="0" text-anchor="middle">October</text>
<text transform="translate(405.90,365.60) scale(0.98,1)" font-size="13.33px" fill="#1A1A1A" stroke="#1A1A1A" stroke-width="0" text-anchor="middle">11</text>
<text transform="translate(406.30,395.20) scale(0.98,1)" font-size="13.33px" fill="#1A1A1A" stroke="#1A1A1A" stroke-width="0" text-anchor="middle">April</text>
<text transform="translate(486.33,365.60) scale(0.98,1)" font-size="13.33px" fill="#1A1A1A" stroke="#1A1A1A" stroke-width="0" text-anchor="middle">11</text>
<text transform="translate(485.03,395.20) scale(0.98,1)" font-size="13.33px" fill="#1A1A1A" stroke="#1A1A1A" stroke-width="0" text-anchor="middle">January</text>
<text transform="translate(565.06,365.60) scale(0.98,1)" font-size="13.33px" fill="#1A1A1A" stroke="#1A1A1A" stroke-width="0" text-anchor="middle">11</text>
<text transform="translate(564.46,395.20) scale(0.98,1)" font-size="13.33px" fill="#1A1A1A" stroke="#1A1A1A" stroke-width="0" text-anchor="middle">July</text>
<text transform="translate(645.49,365.60) scale(0.98,1)" font-size="13.33px" fill="#1A1A1A" stroke="#1A1A1A" stroke-width="0" text-anchor="middle">11</text>
<text transform="translate(645.49,395.20) scale(0.98,1)" font-size="13.33px" fill="#1A1A1A" stroke="#1A1A1A" stroke-width="0" text-anchor="middle">October</text>
<text transform="translate(724.52,365.60) scale(0.98,1)" font-size="13.33px" fill="#1A1A1A" stroke="#1A1A1A" stroke-width="0" text-anchor="middle">21</text>
<text transform="translate(724.82,395.20) scale(0.98,1)" font-size="13.33px" fill="#1A1A1A" stroke="#1A1A1A" stroke-width="0" text-anchor="middle">April</text>
<text transform="translate(803.55,365.60) scale(0.98,1)" font-size="13.33px" fill="#1A1A1A" stroke="#1A1A1A" stroke-width="0" text-anchor="middle">21</text>
<text transform="translate(803.55,395.20) scale(0.98,1)" font-size="13.33px" fill="#1A1A1A" stroke="#1A1A1A" stroke-width="0" text-anchor="middle">January</text>
<text transform="translate(883.58,365.60) scale(0.98,1)" font-size="13.33px" fill="#1A1A1A" stroke="#1A1A1A" stroke-width="0" text-anchor="middle">21</text>
<text transform="translate(882.98,395.20) scale(0.98,1)" font-size="13.33px" fill="#1A1A1A" stroke="#1A1A1A" stroke-width="0" text-anchor="middle">July</text>
<text transform="translate(963.81,365.60) scale(0.98,1)" font-size="13.33px" fill="#1A1A1A" stroke="#1A1A1A" stroke-width="0" text-anchor="middle">21</text>
<text transform="translate(964.01,395.20) scale(0.98,1)" font-size="13.33px" fill="#1A1A1A" stroke="#1A1A1A" stroke-width="0" text-anchor="middle">October</text>
<text transform="translate(526.00,422.00) scale(0.977,1)" font-size="18.33px" fill="#000" stroke="#000" stroke-width="0.3" text-anchor="middle">Month/Day/Hour</text>
<text transform="translate(24.40,163.30) rotate(-90) scale(0.977,1)" font-size="18.33px" fill="#000" stroke="#000" stroke-width="0.3" text-anchor="middle">result</text>
<text transform="translate(1026.50,108.60) scale(0.977,1)" font-size="18.33px" fill="#000" stroke="#000" stroke-width="0.3" text-anchor="start">Subject</text>
<text transform="translate(1064.00,141.00) scale(0.934,1)" font-size="15.4px" fill="#000" stroke="#000" stroke-width="0.15" text-anchor="start">1</text>
<text transform="translate(1064.00,169.60) scale(0.934,1)" font-size="15.4px" fill="#000" stroke="#000" stroke-width="0.15" text-anchor="start">2</text>
<text transform="translate(1064.00,198.20) scale(0.934,1)" font-size="15.4px" fill="#000" stroke="#000" stroke-width="0.15" text-anchor="start">3</text>
<text transform="translate(1064.00,226.80) scale(0.934,1)" font-size="15.4px" fill="#000" stroke="#000" stroke-width="0.15" text-anchor="start">4</text>
</svg>
</body></html>
